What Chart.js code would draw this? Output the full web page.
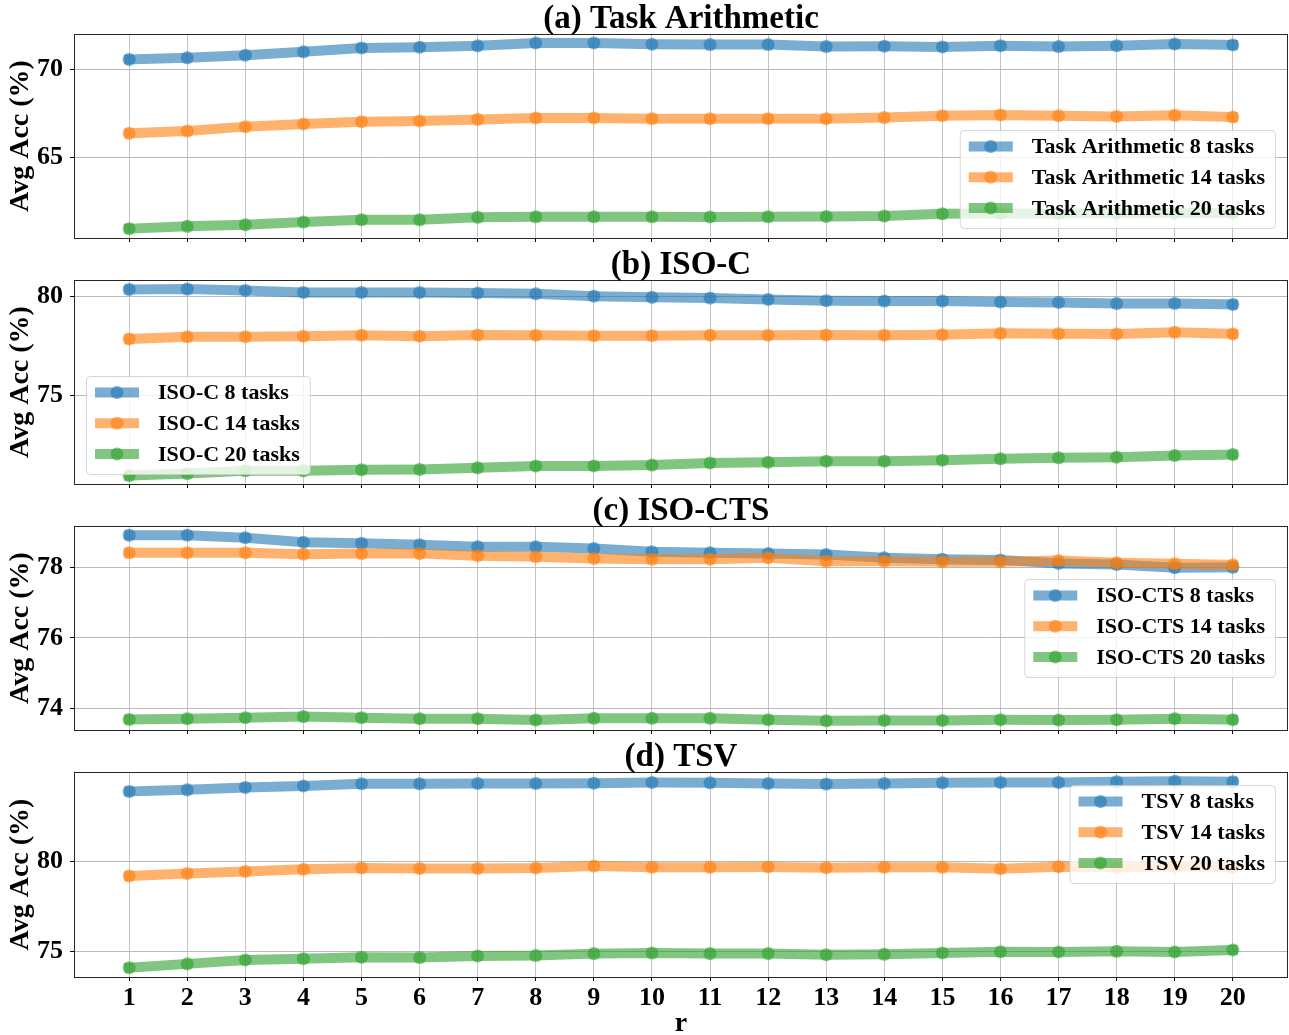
<!DOCTYPE html>
<html>
<head>
<meta charset="utf-8">
<script src="https://cdn.jsdelivr.net/npm/chart.js@4.4.1/dist/chart.umd.min.js"></script>
<style>
  html, body { margin: 0; padding: 0; background: #ffffff; }
  body { width: 1289px; height: 1035px; position: relative; overflow: hidden; }
  canvas { position: absolute; left: 0; }
</style>
</head>
<body>
<canvas id="panelA" width="1289" height="250" style="top:0px"></canvas>
<canvas id="panelB" width="1289" height="250" style="top:246px"></canvas>
<canvas id="panelC" width="1289" height="250" style="top:492px"></canvas>
<canvas id="panelD" width="1289" height="297" style="top:738px"></canvas>
<script>
// rank r on the shared x axis
const rValues = [1, 2, 3, 4, 5, 6, 7, 8, 9, 10, 11, 12, 13, 14, 15, 16, 17, 18, 19, 20];
const taskCounts = ['8 tasks', '14 tasks', '20 tasks'];

// (a) Task Arithmetic
const taAcc8  = [70.55, 70.64, 70.79, 70.98, 71.20, 71.24, 71.32, 71.48, 71.48, 71.41, 71.39, 71.39, 71.28, 71.30, 71.26, 71.33, 71.28, 71.33, 71.43, 71.37];
const taAcc14 = [66.37, 66.50, 66.75, 66.90, 67.03, 67.07, 67.16, 67.24, 67.24, 67.20, 67.20, 67.20, 67.20, 67.26, 67.37, 67.41, 67.37, 67.33, 67.39, 67.29];
const taAcc20 = [60.98, 61.11, 61.20, 61.35, 61.48, 61.48, 61.62, 61.65, 61.65, 61.65, 61.64, 61.65, 61.67, 61.69, 61.82, 61.84, 61.84, 61.85, 61.86, 61.86];

// (b) ISO-C
const isoCAcc8  = [80.37, 80.39, 80.32, 80.22, 80.22, 80.22, 80.19, 80.15, 80.03, 79.97, 79.93, 79.86, 79.80, 79.78, 79.78, 79.73, 79.71, 79.65, 79.66, 79.61];
const isoCAcc14 = [77.85, 77.96, 77.97, 77.99, 78.04, 77.99, 78.06, 78.04, 78.02, 78.02, 78.04, 78.04, 78.06, 78.04, 78.07, 78.14, 78.12, 78.11, 78.19, 78.11];
const isoCAcc20 = [70.91, 71.01, 71.15, 71.15, 71.20, 71.22, 71.30, 71.40, 71.40, 71.44, 71.55, 71.59, 71.64, 71.64, 71.69, 71.76, 71.81, 71.84, 71.93, 71.98];

// (c) ISO-CTS
const isoCtsAcc8  = [78.91, 78.91, 78.84, 78.71, 78.68, 78.64, 78.58, 78.58, 78.53, 78.44, 78.41, 78.39, 78.36, 78.27, 78.23, 78.21, 78.11, 78.08, 77.99, 78.00];
const isoCtsAcc14 = [78.41, 78.41, 78.41, 78.37, 78.39, 78.39, 78.33, 78.30, 78.25, 78.23, 78.23, 78.27, 78.17, 78.17, 78.16, 78.16, 78.19, 78.13, 78.10, 78.07];
const isoCtsAcc20 = [73.69, 73.71, 73.74, 73.77, 73.74, 73.71, 73.71, 73.67, 73.72, 73.72, 73.72, 73.68, 73.65, 73.66, 73.66, 73.68, 73.67, 73.68, 73.71, 73.68];

// (d) TSV
const tsvAcc8  = [83.89, 83.98, 84.11, 84.19, 84.31, 84.31, 84.33, 84.33, 84.35, 84.39, 84.37, 84.33, 84.30, 84.33, 84.37, 84.39, 84.39, 84.43, 84.46, 84.43];
const tsvAcc14 = [79.19, 79.33, 79.44, 79.56, 79.63, 79.61, 79.61, 79.63, 79.74, 79.67, 79.67, 79.69, 79.65, 79.67, 79.67, 79.59, 79.70, 79.67, 79.70, 79.67];
const tsvAcc20 = [74.09, 74.30, 74.52, 74.59, 74.67, 74.65, 74.74, 74.76, 74.87, 74.91, 74.87, 74.87, 74.81, 74.83, 74.91, 74.98, 74.96, 75.00, 74.96, 75.07];

// y-axis tick labels and limits per panel
const taTicks = [65, 70];
const isoCTicks = [75, 80];
const isoCtsTicks = [74, 76, 78];
const tsvTicks = [75, 80];
const taRange = [60.45, 71.99];
const isoCRange = [70.48, 80.85];
const isoCtsRange = [73.39, 79.17];
const tsvRange = [73.57, 84.97];

const SERIF = '"Liberation Serif", "Times New Roman", serif';
const SERIES_RGB = ['31,119,180', '255,127,14', '44,160,44'];
const ALPHA = 0.6;

function seriesColor(i) { return 'rgba(' + SERIES_RGB[i] + ',' + ALPHA + ')'; }

// Titles, y label, frame and in-axes legend for each panel
const panelDeco = {
  id: 'panelDeco',
  afterDatasetsDraw(chart, args, opts) {
    const ctx = chart.ctx;
    const a = chart.chartArea;
    ctx.save();

    // axes frame
    ctx.strokeStyle = '#262626';
    ctx.lineWidth = 1;
    ctx.strokeRect(Math.round(a.left) + 0.5, Math.round(a.top) + 0.5,
                   Math.round(a.right - a.left) - 1, Math.round(a.bottom - a.top));

    // panel title
    ctx.fillStyle = '#000';
    ctx.font = 'bold 33px ' + SERIF;
    ctx.textAlign = 'center';
    ctx.textBaseline = 'alphabetic';
    ctx.fillText(opts.title, (a.left + a.right) / 2, a.top - 6);

    // y axis label
    ctx.save();
    ctx.translate(21, (a.top + a.bottom) / 2);
    ctx.rotate(-Math.PI / 2);
    ctx.font = 'bold 28px ' + SERIF;
    ctx.textAlign = 'center';
    ctx.textBaseline = 'middle';
    ctx.fillText('Avg Acc (%)', 0, 0);
    ctx.restore();

    // x axis label
    if (opts.xLabel) {
      ctx.font = 'bold 28px ' + SERIF;
      ctx.textAlign = 'center';
      ctx.textBaseline = 'alphabetic';
      ctx.fillText(opts.xLabel, (a.left + a.right) / 2, chart.height - 4);
    }

    // legend
    const labels = chart.data.datasets.map(d => d.label);
    ctx.font = 'bold 22px ' + SERIF;
    const textW = Math.max(...labels.map(t => ctx.measureText(t).width));
    const boxW = 72 + textW + 10;
    const rowH = 30.7;
    const boxH = 98;
    let bx, by;
    if (opts.legendPos === 'lower right') { bx = a.right - 13 - boxW; by = a.bottom - 10 - boxH; }
    else if (opts.legendPos === 'lower left') { bx = a.left + 12; by = a.bottom - 10 - boxH; }
    else if (opts.legendPos === 'center right') { bx = a.right - 13 - boxW; by = (a.top + a.bottom) / 2 - boxH / 2; }
    else { bx = a.right - 13 - boxW; by = a.top + 13; }

    ctx.beginPath();
    ctx.roundRect(bx + 0.5, by + 0.5, boxW, boxH, 4);
    ctx.fillStyle = 'rgba(255,255,255,0.8)';
    ctx.fill();
    ctx.strokeStyle = 'rgba(204,204,204,0.8)';
    ctx.lineWidth = 1;
    ctx.stroke();

    labels.forEach((t, i) => {
      const cy = by + 16.5 + i * rowH;
      const x0 = bx + 9, x1 = bx + 53;
      ctx.strokeStyle = seriesColor(i);
      ctx.lineWidth = 10;
      ctx.lineCap = 'square';
      ctx.beginPath();
      ctx.moveTo(x0 + 5, cy);
      ctx.lineTo(x1 - 5, cy);
      ctx.stroke();
      ctx.fillStyle = seriesColor(i);
      ctx.beginPath();
      ctx.arc((x0 + x1) / 2, cy, 6.5, 0, Math.PI * 2);
      ctx.fill();
      ctx.fillStyle = '#000';
      ctx.textAlign = 'left';
      ctx.textBaseline = 'middle';
      ctx.fillText(t, bx + 72, cy + 1);
    });
    ctx.restore();
  }
};

function makePanel(canvasId, method, seriesList, yTicks, yRange, legendPos, showX) {
  const datasets = seriesList.map((vals, i) => ({
    label: method + ' ' + taskCounts[i],
    data: rValues.map((r, k) => ({ x: r, y: vals[k] })),
    borderColor: seriesColor(i),
    backgroundColor: seriesColor(i),
    borderWidth: 10,
    borderCapStyle: 'square',
    borderJoinStyle: 'round',
    pointRadius: 6.5,
    pointBorderWidth: 0,
    pointBackgroundColor: seriesColor(i),
    fill: false,
    tension: 0,
    order: 3 - i
  }));
  return new Chart(document.getElementById(canvasId), {
    type: 'line',
    data: { datasets },
    plugins: [panelDeco],
    options: {
      responsive: false,
      animation: false,
      devicePixelRatio: 1,
      layout: { autoPadding: false, padding: { top: 34, right: 1, left: 0, bottom: 0 } },
      plugins: {
        legend: { display: false },
        tooltip: { enabled: false },
        title: { display: false },
        panelDeco: { title: ({A:'(a) ',B:'(b) ',C:'(c) ',D:'(d) '})[canvasId.slice(-1)] + method, legendPos, xLabel: showX ? 'r' : null }
      },
      scales: {
        x: {
          type: 'linear',
          min: 0.05,
          max: 20.95,
          afterBuildTicks: s => { s.ticks = rValues.map(v => ({ value: v })); },
          afterFit: s => {
            s.height = showX ? 58 : 12;
            s.paddingLeft = 0; s.paddingRight = 0; s.paddingTop = 0; s.paddingBottom = 0;
          },
          grid: { color: '#c4c4c4', lineWidth: 1, drawTicks: true, tickLength: 4, tickColor: '#000', tickWidth: 1 },
          border: { display: false },
          ticks: {
            display: showX,
            padding: 2,
            maxRotation: 0,
            autoSkip: false,
            color: '#000',
            font: { family: SERIF, size: 26, weight: 'bold' },
            callback: v => String(v)
          }
        },
        y: {
          type: 'linear',
          min: yRange[0],
          max: yRange[1],
          afterBuildTicks: s => { s.ticks = yTicks.map(v => ({ value: v })); },
          afterFit: s => {
            s.width = 74;
            s.paddingLeft = 0; s.paddingRight = 0; s.paddingTop = 0; s.paddingBottom = 0;
          },
          grid: { color: '#b8b8b8', lineWidth: 1, drawTicks: true, tickLength: 4, tickColor: '#000', tickWidth: 1 },
          border: { display: false },
          ticks: {
            padding: 7,
            color: '#000',
            font: { family: SERIF, size: 26, weight: 'bold' },
            callback: v => String(v)
          }
        }
      }
    }
  });
}

makePanel('panelA', 'Task Arithmetic', [taAcc8, taAcc14, taAcc20], taTicks, taRange, 'lower right', false);
makePanel('panelB', 'ISO-C', [isoCAcc8, isoCAcc14, isoCAcc20], isoCTicks, isoCRange, 'lower left', false);
makePanel('panelC', 'ISO-CTS', [isoCtsAcc8, isoCtsAcc14, isoCtsAcc20], isoCtsTicks, isoCtsRange, 'center right', false);
makePanel('panelD', 'TSV', [tsvAcc8, tsvAcc14, tsvAcc20], tsvTicks, tsvRange, 'upper right', true);
</script>
</body>
</html>
